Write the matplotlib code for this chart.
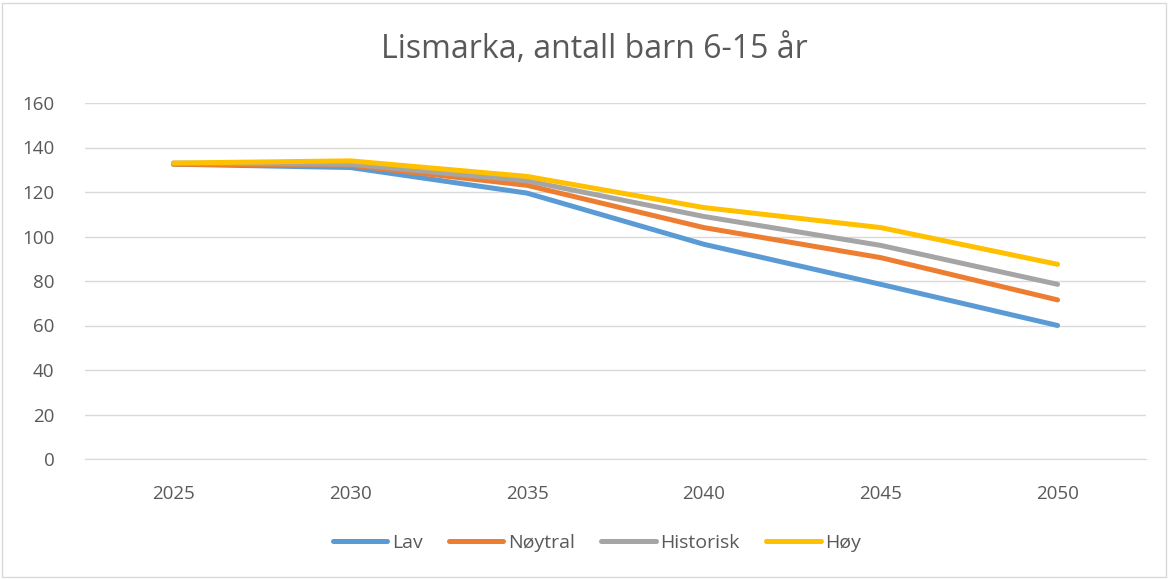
import matplotlib
matplotlib.use("Agg")
import matplotlib.pyplot as plt
from matplotlib.patches import Rectangle

years = ["2025", "2030", "2035", "2040", "2045", "2050"]
lav = [132.5, 131, 119.5, 96.5, 78.5, 60]
noytral = [132.5, 132, 123, 104, 90.5, 71.5]
historisk = [133, 132.5, 125, 109, 96, 78.5]
hoy = [133, 134, 127, 113, 104, 87.5]
series_names = ["Lav", "Nøytral", "Historisk", "Høy"]
colors = ["#5B9BD5", "#ED7D31", "#A5A5A5", "#FFC000"]
yticks = [0, 20, 40, 60, 80, 100, 120, 140, 160]

plt.rcParams['font.family'] = ['Open Sans', 'DejaVu Sans']

fig = plt.figure(figsize=(11.69, 5.79), dpi=100)
ax = fig.add_axes([85/1169, 1-459/579, (1146-85)/1169, (459-103)/579])

x = list(range(len(years)))
for vals, name, c in zip([lav, noytral, historisk, hoy], series_names, colors):
    ax.plot(x, vals, color=c, lw=3.6, label=name, solid_capstyle='round', solid_joinstyle='round')

ax.set_xlim(-0.5, len(years) - 0.5)
ax.set_ylim(0, 160)
ax.set_yticks(yticks)
ax.set_xticks(x)
ax.set_xticklabels(years)
ax.grid(axis='y', color='#D9D9D9', lw=1)
ax.set_axisbelow(True)
for s in ['top', 'right', 'left']:
    ax.spines[s].set_visible(False)
ax.spines['bottom'].set_color('#D9D9D9')
ax.tick_params(axis='both', length=0, colors='#595959', labelsize=13.5)
ax.tick_params(axis='x', pad=19)
ax.tick_params(axis='y', pad=22)

fig.text(594/1169, 1-50/579, "Lismarka, antall barn 6-15 år", ha='center', va='center',
         fontsize=23, color='#595959')

fig.legend(loc='center', bbox_to_anchor=(597/1169, 1-543/579), ncol=4, frameon=False,
           fontsize=14, labelcolor='#595959', handlelength=2.8, handletextpad=0.25,
           columnspacing=1.35)

fig.patches.append(Rectangle((2/1169, 2/579), 1-5/1169, 1-5/579, transform=fig.transFigure,
                             fill=False, edgecolor='#D9D9D9', lw=1))

fig.savefig("out.png", dpi=100)
